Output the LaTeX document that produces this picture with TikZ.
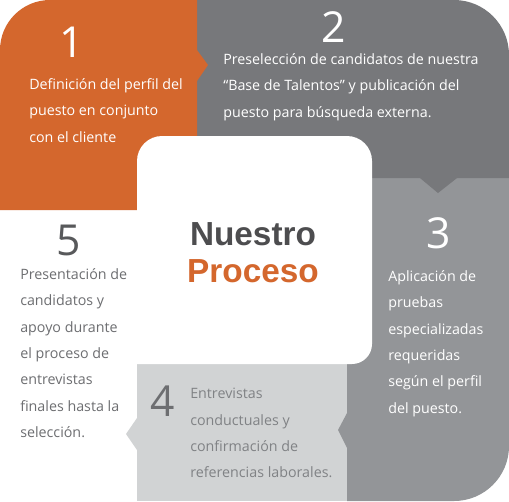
\documentclass[tikz,border=0pt]{standalone}
\usepackage{fontspec}
\setmainfont{Open Sans}
\newfontfamily\titlefont{Liberation Sans}
\definecolor{orangeA}{HTML}{D4672D}
\definecolor{greyA}{HTML}{77787B}
\definecolor{greyB}{HTML}{939598}
\definecolor{greyC}{HTML}{D1D3D4}
\definecolor{txtFour}{HTML}{808285}
\definecolor{numFour}{HTML}{6D6E71}
\definecolor{txtFive}{HTML}{6D6E71}
\definecolor{numFive}{HTML}{58595B}
\definecolor{titleGrey}{HTML}{4D4D4F}
\tikzset{
  bodytext/.style={anchor=north west, inner sep=0pt, align=left,
    font=\fontsize{10.7}{19.8}\selectfont},
  bignum/.style={anchor=base, inner sep=0pt, font=\fontsize{32}{32}\selectfont},
  titletext/.style={anchor=base, inner sep=0pt, font=\titlefont\bfseries\fontsize{25}{25}\selectfont}
}
\begin{document}
\begin{tikzpicture}[x=0.75pt,y=-0.75pt]
\useasboundingbox (0,0) rectangle (509,501);
\fill[white] (0,0) rectangle (509,501);
% step 3 (medium grey)
\fill[greyB] (347,178) -- (509,178) -- (509,446) arc[start angle=0,end angle=90,radius=55] -- (347,501) -- cycle;
% step 2 (dark grey)
\fill[greyA] (197,0) -- (454,0) arc[start angle=-90,end angle=0,radius=55] -- (509,178) -- (197,178) -- cycle;
\fill[greyA] (420,178) -- (438,193) -- (457,178) -- cycle;
% step 1 (orange)
\fill[orangeA] (0,210) -- (0,50) arc[start angle=180,end angle=270,radius=50] -- (197,0) -- (197,210) -- cycle;
\fill[orangeA] (197,50) -- (208,65) -- (197,81) -- cycle;
% step 4 (light grey)
\fill[greyC] (137,364) rectangle (347,501);
\fill[greyC] (137,418) -- (126,434) -- (137,450) -- cycle;
\fill[greyB] (347,413) -- (338,430) -- (347,448) -- cycle;
% centre box
\fill[white] (137,364) -- (137,161) arc[start angle=180,end angle=270,radius=25] -- (347,136) arc[start angle=-90,end angle=0,radius=25] -- (372,344) arc[start angle=0,end angle=90,radius=20] -- cycle;

% numbers
\node[bignum, text=white] (n1) at (72,57) {1};
\node[bignum, text=white] (n2) at (334,42) {2};
\node[bignum, text=white] (n3) at (439,248) {3};
\node[bignum, text=numFour] (n4) at (163,416) {4};
\node[bignum, text=numFive] (n5) at (69,255) {5};

% texts
\node[bodytext, text=white] (t1) at (29,78) {Definición del perfil del\\puesto en conjunto\\con el cliente};
\node[bodytext, text=white] (t2) at (223,53) {Preselección de candidatos de nuestra\\“Base de Talentos” y publicación del\\puesto para búsqueda externa.};
\node[bodytext, text=white] (t3) at (388,270) {Aplicación de\\pruebas\\especializadas\\requeridas\\según el perfil\\del puesto.};
\node[bodytext, text=txtFour] (t4) at (190,388) {Entrevistas\\conductuales y\\confirmación de\\referencias laborales.};
\node[bodytext, text=txtFive] (t5) at (20,268) {Presentación de\\candidatos y\\apoyo durante\\el proceso de\\entrevistas\\finales hasta la\\selección.};

% title
\node[titletext, text=titleGrey] (title1) at (253,245) {Nuestro};
\node[titletext, text=orangeA] (title2) at (253,282) {Proceso};
\end{tikzpicture}
\end{document}
